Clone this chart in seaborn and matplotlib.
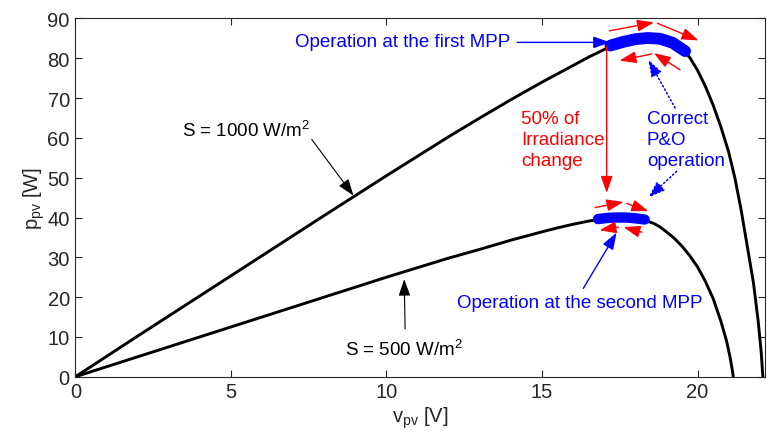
import matplotlib
matplotlib.use("Agg")
import matplotlib.pyplot as plt
import seaborn as sns
import pandas as pd

# ---- data ----
v_1000 = [0, 2, 4, 6, 8, 9, 10, 11, 12, 13, 14, 15, 16, 16.5, 17, 17.5, 18,
          18.5, 19, 19.25, 19.5, 19.75, 20, 20.25, 20.5, 20.75, 21, 21.2, 21.4,
          21.6, 21.8, 21.95, 22.05, 22.1]
p_1000 = [0, 10.2, 20.3, 30.4, 40.5, 45.5, 50.5, 55.4, 60.3, 65.0, 69.6, 74.0,
          78.2, 80.3, 82.2, 83.7, 84.7, 85.1, 84.5, 83.6, 82.3, 80.2, 77.0,
          73.0, 68.3, 62.8, 56.5, 50.0, 42.0, 32.8, 23.5, 14.0, 6.0, 0]

v_500 = [0, 2, 4, 6, 8, 10, 11, 12, 13, 14, 15, 15.5, 16, 16.5, 17, 17.5, 18,
         18.3, 18.6, 18.8, 19, 19.25, 19.5, 19.75, 20, 20.25, 20.5, 20.75,
         20.94, 21.05, 21.12, 21.15]
p_500 = [0, 5.0, 10.0, 15.0, 20.0, 25.0, 27.4, 29.8, 32.0, 34.3, 36.4, 37.4,
         38.3, 39.1, 39.7, 40.0, 39.8, 39.3, 38.5, 37.6, 36.4, 34.8, 32.8,
         30.4, 27.6, 24.0, 19.7, 14.0, 8.8, 4.8, 1.6, 0]

mpp1_v = [17.2, 17.6, 18.0, 18.4, 18.8, 19.2, 19.6]
mpp1_p = [83.2, 84.1, 84.8, 85.1, 84.9, 83.9, 81.8]
mpp2_v = [16.8, 17.1, 17.4, 17.7, 18.0, 18.3]
mpp2_p = [39.6, 39.9, 40.0, 40.0, 39.8, 39.5]

x_ticks = [0, 5, 10, 15, 20]
y_ticks = [0, 10, 20, 30, 40, 50, 60, 70, 80, 90]

curves = pd.concat([
    pd.DataFrame({"v": v_1000, "p": p_1000, "S": "1000"}),
    pd.DataFrame({"v": v_500, "p": p_500, "S": "500"}),
])
mpp1 = pd.DataFrame({"v": mpp1_v, "p": mpp1_p})
mpp2 = pd.DataFrame({"v": mpp2_v, "p": mpp2_p})

sns.set_theme(style="white")
plt.rcParams["font.family"] = ["Liberation Sans", "DejaVu Sans"]
plt.rcParams["mathtext.default"] = "regular"

fig = plt.figure(figsize=(7.67, 4.39), dpi=100)
ax = fig.add_axes([0.0983, 0.1396, 0.8991, 0.8160])

for s in ["1000", "500"]:
    sns.lineplot(data=curves[curves.S == s], x="v", y="p", color="black",
                 lw=2.1, sort=False, estimator=None, ax=ax, legend=False)
sns.lineplot(data=mpp1, x="v", y="p", color="#0000ff", lw=8.5,
             sort=False, estimator=None, ax=ax, legend=False)
sns.lineplot(data=mpp2, x="v", y="p", color="#0000ff", lw=7.5,
             sort=False, estimator=None, ax=ax, legend=False)
for ln in ax.lines[:2]:
    ln.set_solid_joinstyle("round")
for ln in ax.lines[2:]:
    ln.set_solid_capstyle("round")

ax.set_xlim(0, 22.17)
ax.set_ylim(0, 90)
ax.set_xticks(x_ticks)
ax.set_yticks(y_ticks)
tick_font = ["Liberation Sans", "DejaVu Sans"]
ax.set_xticklabels([str(t) for t in x_ticks], family=tick_font, fontsize=14.5)
ax.set_yticklabels([str(t) for t in y_ticks], family=tick_font, fontsize=14.5)
ax.tick_params(direction="in", length=5, width=0.8, color="#262626",
               top=True, right=True, bottom=True, left=True,
               labelcolor="#262626", pad=4)
for sp in ax.spines.values():
    sp.set_visible(True)
    sp.set_color("#262626")
    sp.set_linewidth(0.8)
ax.set_xlabel("$v_{pv}$ [V]", family=tick_font, fontsize=14.5, color="#262626",
              labelpad=2)
ax.set_ylabel("$p_{pv}$ [W]", family=tick_font, fontsize=14.5, color="#262626",
              labelpad=0)


def arrow(x0, y0, x1, y1, color, ls="-", lw=1.0):
    ax.annotate("", xy=(x1, y1), xytext=(x0, y0),
                arrowprops=dict(arrowstyle="-|>,head_length=0.85,head_width=0.3",
                                color=color, lw=lw, ls=ls,
                                shrinkA=0, shrinkB=0))

RED = "#ff0000"
BLUE = "#0000ff"
fs = 13.5

# red P&O arrows, first MPP
arrow(17.17, 86.9, 18.60, 89.0, RED)
arrow(18.71, 88.8, 20.03, 84.5, RED)
arrow(19.44, 77.1, 18.60, 81.3, RED)
arrow(18.53, 81.1, 17.49, 79.4, RED)
# red P&O arrows, second MPP
arrow(16.71, 42.5, 17.62, 43.9, RED)
arrow(17.73, 43.5, 18.42, 41.6, RED)
arrow(18.21, 36.3, 17.62, 37.6, RED)
arrow(17.46, 37.6, 16.85, 36.8, RED)
# irradiance change
arrow(17.08, 83.0, 17.08, 46.2, RED)
ax.text(14.32, 59.6, "50% of\nIrradiance\nchange", color=RED, fontsize=fs,
        ha="left", va="center", linespacing=1.3)

# operation labels
ax.text(7.05, 84.1, "Operation at the first MPP", color=BLUE, fontsize=fs,
        ha="left", va="center")
arrow(14.2, 84.0, 17.19, 84.0, BLUE)
ax.text(20.17, 18.6, "Operation at the second MPP", color=BLUE, fontsize=fs,
        ha="right", va="center")
arrow(16.33, 22.2, 17.40, 36.2, BLUE)

ax.text(18.37, 59.6, "Correct\nP&O\noperation", color=BLUE, fontsize=fs,
        ha="left", va="center", linespacing=1.3)
arrow(19.28, 67.5, 18.42, 79.6, BLUE, ls=":", lw=1.1)
arrow(19.33, 51.6, 18.42, 45.0, BLUE, ls=":", lw=1.1)

# irradiance labels
ax.text(3.42, 60.6, "S = 1000 W/m$^2$", color="black", fontsize=fs,
        ha="left", va="baseline")
arrow(7.60, 59.6, 8.94, 45.5, "black", lw=0.8)
ax.text(8.67, 5.45, "S = 500 W/m$^2$", color="black", fontsize=fs,
        ha="left", va="baseline")
arrow(10.60, 12.0, 10.57, 24.5, "black", lw=0.8)

fig.savefig("out.png", dpi=100)
